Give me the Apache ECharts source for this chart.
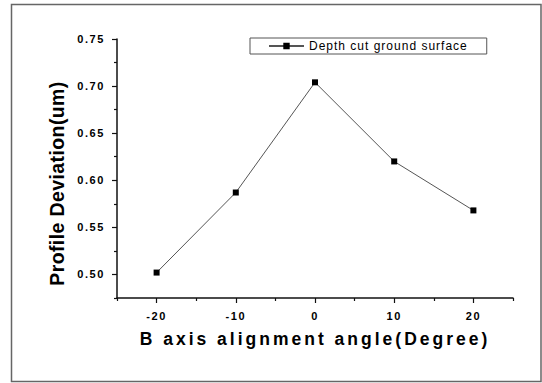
<!DOCTYPE html>
<html>
<head>
<meta charset="utf-8">
<script src="https://cdn.jsdelivr.net/npm/echarts@6/dist/echarts.min.js"></script>
<style>
  html, body { margin: 0; padding: 0; background: #fff; }
  #main { width: 542px; height: 383px; }
  /* Origin-style spaced lettering */
  #main svg text[style*="11px"] { letter-spacing: 1.6px; }
  #main svg text[style*="12px"] { letter-spacing: 1px; }
  #main svg text[style*="17.5px"] { letter-spacing: 3px; }
  #main svg text[style*="19.5px"] { letter-spacing: 0.4px; }
</style>
</head>
<body>
<div id="main"></div>
<script>
// data
const seriesName = 'Depth cut ground surface'
const angles = [-20, -10, 0, 10, 20]
const deviation = [0.502, 0.587, 0.704, 0.620, 0.568]

// tick positions
const xMajor = [-20, -10, 0, 10, 20]
const xMinor = [-25, -15, -5, 5, 15, 25]
const yMajor = [0.50, 0.55, 0.60, 0.65, 0.70, 0.75]
const yMinor = [0.475, 0.525, 0.575, 0.625, 0.675, 0.725]

const font = '"Liberation Sans", Arial, sans-serif'
const axisColor = '#111'

const chart = echarts.init(document.getElementById('main'), null, {renderer: 'svg'})

const points = angles.map((a, i) => [a, deviation[i]])

chart.setOption({
  animation: false,
  backgroundColor: '#fff',
  graphic: [
    {
      type: 'rect',
      shape: {x: 11.5, y: 4.5, width: 529.5, height: 377},
      style: {fill: 'none', stroke: '#666', lineWidth: 1.5}
    }
  ],
  grid: {left: 117, right: 29, top: 39, bottom: 85},
  legend: {
    data: [seriesName],
    left: 250,
    top: 38,
    orient: 'horizontal',
    borderColor: '#555',
    borderWidth: 1,
    borderRadius: 0,
    padding: [2, 43, 2, 18],
    itemWidth: 35,
    itemHeight: 8,
    textStyle: {fontFamily: font, fontSize: 12, color: '#000'}
  },
  xAxis: [
    {
      type: 'value',
      min: -25,
      max: 25,
      axisLine: {onZero: false, lineStyle: {color: axisColor, width: 1.5}},
      axisTick: {customValues: xMajor, length: 5, lineStyle: {color: axisColor, width: 1.2}},
      axisLabel: {
        customValues: xMajor,
        margin: 12.5,
        fontFamily: font, fontSize: 11, fontWeight: 'bold', color: '#000'
      },
      splitLine: {show: false},
      name: 'B axis alignment angle(Degree)',
      nameLocation: 'middle',
      nameGap: 32,
      nameTextStyle: {fontFamily: font, fontSize: 17.5, fontWeight: 'bold', color: '#000'}
    },
    {
      type: 'value',
      min: -25,
      max: 25,
      position: 'bottom',
      axisLine: {show: false, onZero: false},
      axisTick: {customValues: xMinor, length: 3, lineStyle: {color: axisColor, width: 1.2}},
      axisLabel: {show: false},
      splitLine: {show: false}
    }
  ],
  yAxis: [
    {
      type: 'value',
      min: 0.475,
      max: 0.75,
      axisLine: {show: true, onZero: false, lineStyle: {color: axisColor, width: 1.5}},
      axisTick: {show: true, customValues: yMajor, length: 5, lineStyle: {color: axisColor, width: 1.2}},
      axisLabel: {
        customValues: yMajor,
        margin: 12,
        formatter: v => v.toFixed(2),
        fontFamily: font, fontSize: 11, fontWeight: 'bold', color: '#000'
      },
      splitLine: {show: false},
      name: 'Profile Deviation(um)',
      nameLocation: 'middle',
      nameGap: 50,
      nameTextStyle: {
        fontFamily: font, fontSize: 19.5, fontWeight: 'bold', color: '#000',
        padding: [0, 30, 0, 0]
      }
    },
    {
      type: 'value',
      min: 0.475,
      max: 0.75,
      position: 'left',
      axisLine: {show: false, onZero: false},
      axisTick: {show: true, customValues: yMinor, length: 3, lineStyle: {color: axisColor, width: 1.2}},
      axisLabel: {show: false},
      splitLine: {show: false}
    }
  ],
  series: [
    {
      name: seriesName,
      type: 'line',
      data: points,
      xAxisIndex: 0,
      yAxisIndex: 0,
      symbol: 'rect',
      symbolSize: 6,
      itemStyle: {color: '#000'},
      lineStyle: {color: '#555', width: 1}
    }
  ]
})
</script>
</body>
</html>
